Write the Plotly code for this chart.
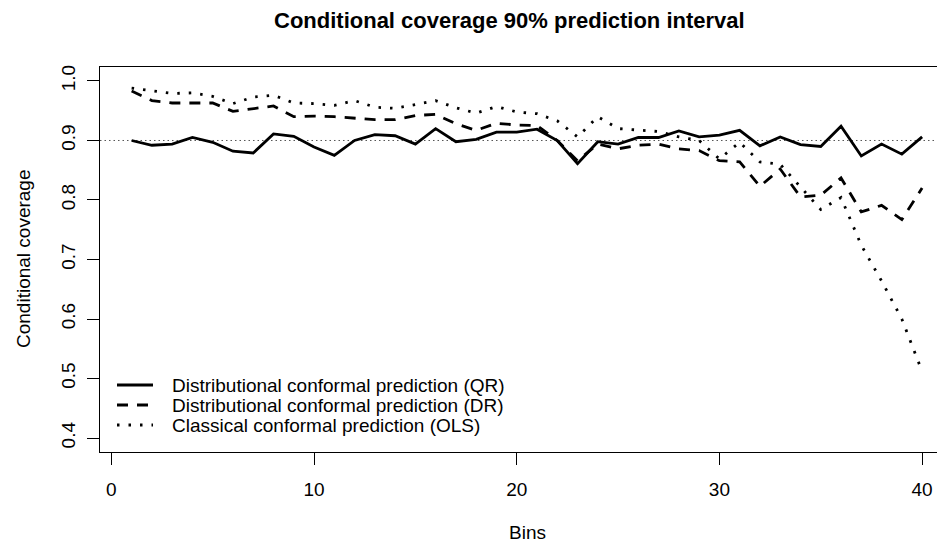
import plotly.graph_objects as go

bins = list(range(1, 41))

qr = [0.900, 0.892, 0.894, 0.905, 0.897, 0.882, 0.879, 0.911, 0.907, 0.889,
      0.875, 0.900, 0.910, 0.908, 0.894, 0.920, 0.898, 0.902, 0.914, 0.914,
      0.919, 0.900, 0.861, 0.898, 0.894, 0.905, 0.905, 0.916, 0.906, 0.909,
      0.917, 0.891, 0.906, 0.893, 0.890, 0.924, 0.874, 0.894, 0.877, 0.906]

dr = [0.983, 0.967, 0.963, 0.963, 0.963, 0.949, 0.953, 0.958, 0.940, 0.941,
      0.940, 0.938, 0.935, 0.935, 0.942, 0.944, 0.928, 0.917, 0.929, 0.926,
      0.925, 0.900, 0.866, 0.894, 0.886, 0.892, 0.894, 0.886, 0.883, 0.866,
      0.864, 0.823, 0.852, 0.805, 0.808, 0.837, 0.780, 0.791, 0.767, 0.820]

ols = [0.988, 0.984, 0.979, 0.980, 0.974, 0.962, 0.973, 0.976, 0.963, 0.962,
       0.959, 0.967, 0.956, 0.954, 0.961, 0.967, 0.955, 0.946, 0.957, 0.948,
       0.945, 0.933, 0.906, 0.940, 0.920, 0.917, 0.915, 0.906, 0.900, 0.869,
       0.897, 0.864, 0.860, 0.822, 0.784, 0.804, 0.724, 0.664, 0.600, 0.512]

names = ["Distributional conformal prediction (QR)",
         "Distributional conformal prediction (DR)",
         "Classical conformal prediction (OLS)"]
dashes = ["solid", "11px,9px", "2.5px,9px"]

target = 0.9
x_ticks = [0, 10, 20, 30, 40]
y_ticks = [0.4, 0.5, 0.6, 0.7, 0.8, 0.9, 1.0]
y_tick_text = ["0.4", "0.5", "0.6", "0.7", "0.8", "0.9", "1.0"]

FONT = "Liberation Sans, Arial, Helvetica, sans-serif"

# the page body adds an 8px margin; lay out in screen pixels and shift
OFF = 8
W, H = 945 - OFF, 542 - OFF
PLOT_L, PLOT_T, PLOT_B = 100, 67, 452          # screen pixels
ML, MT = PLOT_L - OFF, PLOT_T - OFF
MB = H - (PLOT_B - OFF)
MR = 0
PW, PH = W - ML - MR, H - MT - MB


def px_x(px):
    return (px - OFF - ML) / PW


def px_y(py):
    return (H - MB - (py - OFF)) / PH


fig = go.Figure()

# reference line at target coverage
fig.add_trace(go.Scatter(x=[-5, 50], y=[target, target], mode="lines",
                         line=dict(color="#555555", width=1, dash="1.5px,3px"),
                         showlegend=False, hoverinfo="skip"))

for vals, nm, ds in zip([qr, dr, ols], names, dashes):
    fig.add_trace(go.Scatter(x=bins, y=vals, mode="lines", name=nm,
                             line=dict(color="black", width=2.8, dash=ds),
                             showlegend=False))

annotations = [
    dict(text="<b>Conditional coverage 90% prediction interval</b>",
         xref="paper", yref="paper", x=px_x(509), y=px_y(20),
         xanchor="center", yanchor="middle", showarrow=False,
         font=dict(family=FONT, size=22, color="black")),
    dict(text="Bins", xref="paper", yref="paper", x=px_x(527), y=px_y(532),
         xanchor="center", yanchor="middle", showarrow=False,
         font=dict(family=FONT, size=19, color="black")),
    dict(text="Conditional coverage", xref="paper", yref="paper", x=px_x(23),
         y=px_y(259), xanchor="center", yanchor="middle", textangle=-90,
         showarrow=False, font=dict(family=FONT, size=19, color="black")),
]

# legend (drawn manually to match row spacing)
shapes = []
legend_rows = [385, 405, 425]
for nm, ds, ry in zip(names, dashes, legend_rows):
    shapes.append(dict(type="line", xref="paper", yref="paper",
                       x0=px_x(117), x1=px_x(153), y0=px_y(ry), y1=px_y(ry),
                       line=dict(color="black", width=2.8, dash=ds)))
    annotations.append(dict(text=nm, xref="paper", yref="paper", x=px_x(170),
                            y=px_y(ry), xanchor="left", yanchor="middle",
                            showarrow=False,
                            font=dict(family=FONT, size=19, color="black")))

fig.update_layout(
    width=W, height=H,
    margin=dict(l=ML, r=MR, t=MT, b=MB, autoexpand=False),
    paper_bgcolor="white", plot_bgcolor="white",
    font=dict(family=FONT, size=19, color="black"),
    showlegend=False,
    annotations=annotations,
    shapes=shapes,
)

fig.update_xaxes(range=[-0.56, 41.13], tickvals=x_ticks, ticks="outside", ticklen=12,
                 tickwidth=1, tickcolor="black", showline=True, linecolor="black",
                 linewidth=1, mirror=True, showgrid=False, zeroline=False,
                 ticklabelstandoff=8, automargin=False)
fig.update_yaxes(range=[0.3765, 1.0235], tickvals=y_ticks, ticktext=y_tick_text,
                 ticks="outside", ticklen=12, tickwidth=1, tickcolor="black",
                 showline=True, linecolor="black", linewidth=1, mirror=False,
                 showgrid=False, zeroline=False, tickangle=-90,
                 ticklabelstandoff=4, automargin=False)

fig.write_html("out.html")
